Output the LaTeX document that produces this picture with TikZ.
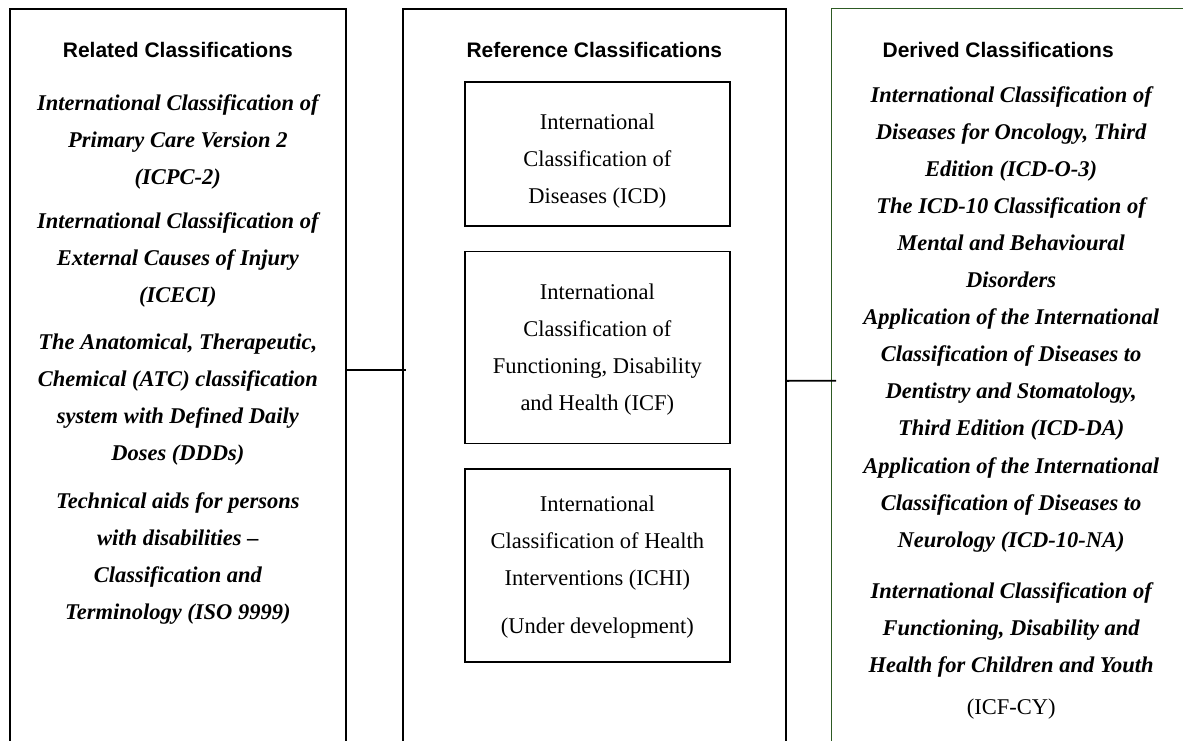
\documentclass[tikz,border=0pt]{standalone}
\usepackage{fontspec}
\setmainfont{Liberation Serif}
\setsansfont{Liberation Sans}
\usetikzlibrary{positioning}
\definecolor{dgreen}{RGB}{45,90,35}
\newcommand{\entryfont}{\fontsize{22.5}{37}\selectfont\bfseries\itshape}
\newcommand{\boxfont}{\fontsize{22.5}{37}\selectfont}
\newcommand{\headfont}{\fontsize{21}{24}\selectfont\sffamily\bfseries}
\newcommand{\brk}{\strut\\\strut}

\begin{document}
\begin{tikzpicture}[
  x=1pt,y=1pt,
  column/.style={draw,line width=1.7pt,minimum height=760pt,inner sep=0pt,anchor=north west},
  head/.style={font=\headfont,inner sep=0pt},
  entry/.style={font=\entryfont,align=center,inner sep=0pt,execute at begin node=\strut,execute at end node=\strut},
  refbox/.style={draw,line width=1.7pt,font=\boxfont,align=center,minimum width=265pt,inner sep=0pt,
                 execute at begin node=\strut,execute at end node=\strut},
  link/.style={line width=1.8pt},
  ]
  \useasboundingbox (0,0) rectangle (1183,-740);
  \clip (0,0) rectangle (1183,-740);
  \fill[white] (0,0) rectangle (1183,-740);
  % the three columns, open at the bottom
  \node[column,minimum width=336pt] (rel) at (9,-8) {};
  \node[column,minimum width=383pt] (ref) at (402,-8) {};
  \node[column,draw=dgreen,line width=1.3pt,minimum width=359pt] (der) at (831,-8) {};
  \node[head,below=34pt of rel.north] (reltitle) {Related Classifications};
  \node[head,below=34pt of ref.north] (reftitle) {Reference Classifications};
  \node[head,below=34pt of der.north,xshift=-13pt] (dertitle) {Derived Classifications};
  % related
  \node[entry,below=27pt of reltitle] (icpc) {International Classification of\brk Primary Care Version 2\brk (ICPC-2)};
  \node[entry,below=6pt of icpc] (iceci) {International Classification of\brk External Causes of Injury\brk (ICECI)};
  \node[entry,below=10pt of iceci] (atc) {The Anatomical, Therapeutic,\brk Chemical (ATC) classification\brk
    system with Defined Daily\brk Doses (DDDs)};
  \node[entry,below=10pt of atc] (iso) {Technical aids for persons\brk with disabilities --\brk
    Classification and\brk Terminology (ISO 9999)};
  % reference
  \node[refbox,minimum height=144pt,below=23pt of reftitle,xshift=3pt] (icd) {\strut\\[-26pt]International\brk Classification of\brk Diseases (ICD)};
  \node[refbox,minimum height=192pt,below=24pt of icd] (icf) {International\brk Classification of\brk
    Functioning, Disability\brk and Health (ICF)};
  \node[refbox,minimum height=193pt,below=24pt of icf] (ichi) {International\brk Classification of Health\brk
    Interventions (ICHI)\strut\\[11pt]\strut(Under development)};
  % derived
  \node[entry,below=68pt of der.north] (icdo) {International Classification of\brk Diseases for Oncology, Third\brk Edition (ICD-O-3)};
  \node[entry,below=0pt of icdo] (mental) {The ICD-10 Classification of\brk Mental and Behavioural\brk Disorders};
  \node[entry,below=0pt of mental] (icdda) {Application of the International\brk Classification of Diseases to\brk
    Dentistry and Stomatology,\brk Third Edition (ICD-DA)};
  \node[entry,below=0pt of icdda] (icdna) {Application of the International\brk Classification of Diseases to\brk
    Neurology (ICD-10-NA)};
  \node[entry,below=14pt of icdna] (icfcy) {International Classification of\brk Functioning, Disability and\brk
    Health for Children and Youth};
  \node[entry,font=\boxfont,below=4pt of icfcy] (icfcytag) {(ICF-CY)};
  % links
  \draw[link] ([yshift=19pt]rel.east) -- ([yshift=19pt,xshift=4pt]ref.west);
  \draw[link] ([yshift=8pt]ref.east) -- ([yshift=8pt,xshift=5pt]der.west);
\end{tikzpicture}
\end{document}
